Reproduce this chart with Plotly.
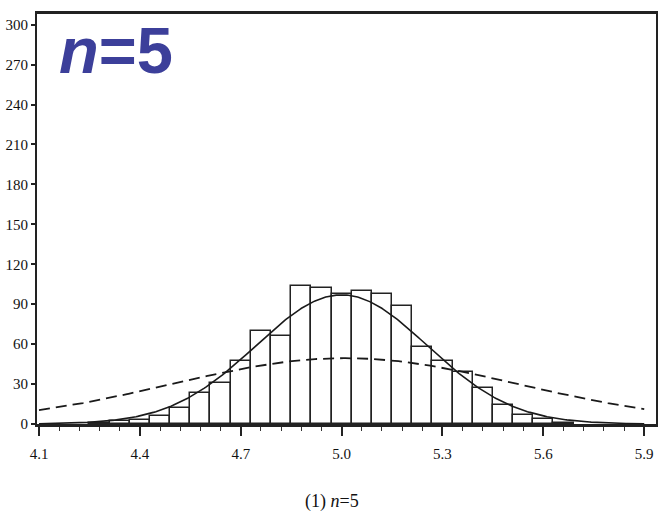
import numpy as np
import plotly.graph_objects as go

# Histogram of sample means (bin width 0.06, bins centred on 4.10 + 0.06k)
bin_centers = [4.28, 4.34, 4.40, 4.46, 4.52, 4.58, 4.64, 4.70, 4.76, 4.82,
               4.88, 4.94, 5.00, 5.06, 5.12, 5.18, 5.24, 5.30, 5.36, 5.42,
               5.48, 5.54, 5.60, 5.66]
counts = [1, 2, 3, 6, 12, 23, 31, 47, 70, 66,
          104, 102, 98, 100, 98, 89, 58, 47, 39, 27,
          14, 7, 4, 1]
bin_width = 0.06

# Normal density overlays (mean, sd, peak height in counts)
solid_mean, solid_sd, solid_peak = 5.00, 0.255, 97.0
dash_mean, dash_sd, dash_peak = 5.01, 0.515, 49.5

x_ticks = [4.1, 4.4, 4.7, 5.0, 5.3, 5.6, 5.9]
x_tick_labels = ["4.1", "4.4", "4.7", "5.0", "5.3", "5.6", "5.9"]
y_ticks = [0, 30, 60, 90, 120, 150, 180, 210, 240, 270, 300]
y_tick_labels = [str(v) for v in y_ticks]

title_text = "<i>n</i>=5"
caption_text = "(1) <i>n</i>=5"


def normal_curve(xs, mean, sd, peak):
    return peak * np.exp(-0.5 * ((xs - mean) / sd) ** 2)


xs = np.linspace(4.1, 5.9, 400)

fig = go.Figure()
fig.add_trace(go.Bar(
    x=bin_centers, y=counts, width=bin_width,
    marker=dict(color="white", line=dict(color="#222222", width=1.5)),
    showlegend=False,
))
fig.add_trace(go.Scatter(
    x=xs, y=normal_curve(xs, dash_mean, dash_sd, dash_peak),
    mode="lines", line=dict(color="#1a1a1a", width=1.8, dash="11px,6px"),
    showlegend=False,
))
fig.add_trace(go.Scatter(
    x=xs, y=normal_curve(xs, solid_mean, solid_sd, solid_peak),
    mode="lines", line=dict(color="#1a1a1a", width=1.6),
    showlegend=False,
))

tick_font = dict(family="Liberation Serif", size=15, color="#111111")

fig.update_layout(
    width=661, height=521,
    margin=dict(l=37, r=3, t=14, b=97),
    paper_bgcolor="white", plot_bgcolor="white",
    bargap=0,
    xaxis=dict(
        range=[4.094, 5.935], tickmode="array", tickvals=x_ticks,
        ticktext=x_tick_labels, ticks="outside", ticklen=9, tickwidth=1.5,
        tickcolor="#222222", showgrid=False, zeroline=False,
        showline=True, linecolor="#222222", linewidth=2.5, mirror=True,
        tickfont=tick_font, ticklabelstandoff=5,
        minor=dict(dtick=0.06, tick0=4.1, ticks="outside", ticklen=4,
                   tickwidth=1.2, tickcolor="#333333", showgrid=False),
    ),
    yaxis=dict(
        range=[0, 308], tickmode="array", tickvals=y_ticks,
        ticktext=y_tick_labels, ticks="outside", ticklen=4, tickwidth=1.5,
        tickcolor="#222222", showgrid=False, zeroline=False,
        showline=True, linecolor="#222222", linewidth=2, mirror=True,
        tickfont=tick_font,
    ),
    annotations=[
        dict(text=title_text, xref="paper", yref="paper", x=0.032, y=0.912,
             xanchor="left", yanchor="middle", showarrow=False,
             font=dict(family="Liberation Sans", size=65, color="#3c3f9a",
                       weight="bold")),
        dict(text=caption_text, xref="paper", yref="paper", x=0.476, y=-0.188,
             xanchor="center", yanchor="middle", showarrow=False,
             font=dict(family="Liberation Serif", size=18, color="#111111")),
    ],
)

fig.write_html("out.html")
